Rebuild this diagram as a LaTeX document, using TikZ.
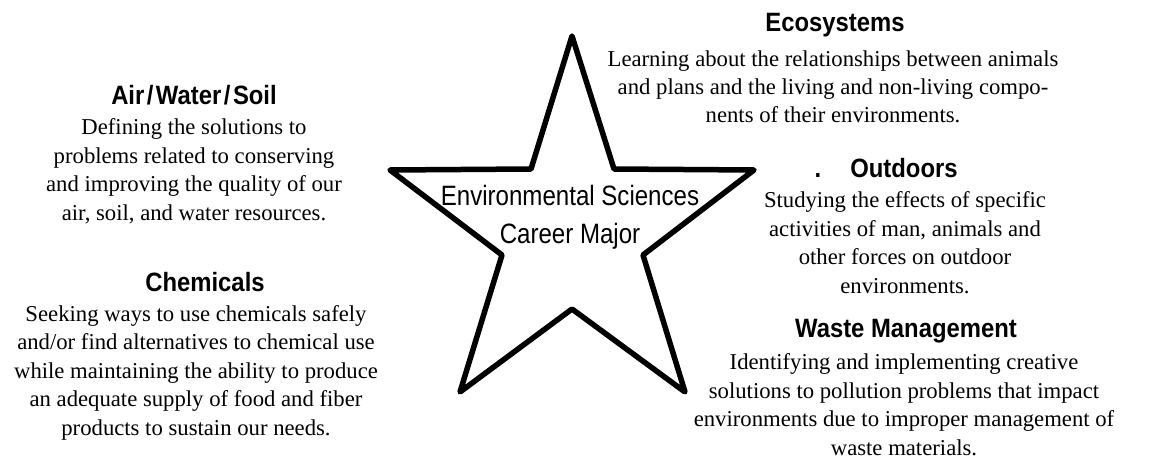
\documentclass[tikz,border=0pt]{standalone}
\usepackage{fontspec}
\setmainfont{Liberation Serif}
\newfontfamily\headfont[FakeStretch=0.9]{Liberation Sans Bold}
\newfontfamily\centerfont[FakeStretch=0.86]{Liberation Sans}
\newcommand{\slashsep}{\kern2.5pt/\kern2.5pt}
\begin{document}
\begin{tikzpicture}[x=1pt,y=-1pt,
  head/.style={anchor=base,inner sep=0pt,font=\headfont\fontsize{26.5}{30}\selectfont},
  body/.style={anchor=base,inner sep=0pt,align=center,font=\fontsize{22.7}{28.4}\selectfont},
  starline/.style={draw=black,line width=5.5pt,line join=round}]
\useasboundingbox (0,0) rectangle (1160,466);
% star
\coordinate (s1) at (572,36);
\coordinate (s2) at (531,169);
\coordinate (s3) at (390,170);
\coordinate (s4) at (502,255);
\coordinate (s5) at (460,392);
\coordinate (s6) at (572,309);
\coordinate (s7) at (685,392);
\coordinate (s8) at (643,255);
\coordinate (s9) at (754,170);
\coordinate (s10) at (614,169);
\draw[starline] (s1) -- (s2) -- (s3) -- (s4) -- (s5) -- (s6) -- (s7) -- (s8) -- (s9) -- (s10) -- cycle;
% base anchor of a multi-line node = baseline of its last line
\node (center) [anchor=base,inner sep=0pt,align=center,font=\centerfont\fontsize{28}{38}\selectfont] at (570,243) {Environmental Sciences\\Career Major};
% Ecosystems
\node (ecoh) [head] at (835,31) {Ecosystems};
\node (ecob) [body,font=\fontsize{22.7}{27.6}\selectfont] at (833,122) {Learning about the relationships between animals\\and plans and the living and non-living compo-\\nents of their environments.};
% Air/Water/Soil
\node (awsh) [head] at (194,104) {Air\slashsep Water\slashsep Soil};
\node (awsb) [body] at (194,220) {Defining the solutions to\\problems related to conserving\\and improving the quality of our\\air, soil, and water resources.};
% Chemicals
\node (chemh) [head] at (205,291) {Chemicals};
\node (chemb) [body] at (196,435) {Seeking ways to use chemicals safely\\and/or find alternatives to chemical use\\while maintaining the ability to produce\\an adequate supply of food and fiber\\products to sustain our needs.};
% Outdoors
\node (dot) [head] at (818,177) {.};
\node (outh) [head] at (904,177) {Outdoors};
\node (outb) [body] at (905,293) {Studying the effects of specific\\activities of man, animals and\\other forces on outdoor\\environments.};
% Waste Management
\node (wasteh) [head] at (906,337) {Waste Management};
\node (wasteb) [body] at (904,455) {Identifying and implementing creative\\solutions to pollution problems that impact\\environments due to improper management of\\waste materials.};
\end{tikzpicture}
\end{document}
